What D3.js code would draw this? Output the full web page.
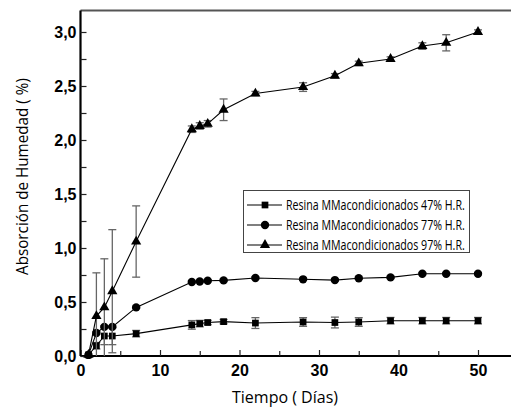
<!DOCTYPE html>
<html>
<head>
<meta charset="utf-8">
<script src="https://cdn.jsdelivr.net/npm/d3@7"></script>
<style>
  body { margin: 0; background: #fff; }
  svg { display: block; }
  .tick-lbl text { font-family: "Liberation Sans", Arial, sans-serif; font-weight: bold; font-size: 16px; fill: #000; }
  .axis-title { font-family: "Open Sans", sans-serif; font-size: 16px; fill: #000; }
  .legend text { font-family: "Open Sans", sans-serif; font-size: 14px; fill: #000; }
</style>
</head>
<body>
<svg width="511" height="412"></svg>
<script>
// data
var days47 = [1, 2, 3, 4, 7, 14, 15, 16, 18, 22, 28, 32, 35, 39, 43, 46, 50];
var abs47  = [0.01, 0.095, 0.185, 0.185, 0.207, 0.288, 0.30, 0.31, 0.318, 0.305, 0.315, 0.31, 0.315, 0.327, 0.327, 0.327, 0.327];
var err47  = [0, 0.03, 0.08, 0.08, 0.03, 0.04, 0.03, 0.02, 0.02, 0.05, 0.04, 0.05, 0.04, 0.03, 0.03, 0.03, 0.03];

var days77 = [1, 2, 3, 4, 7, 14, 15, 16, 18, 22, 28, 32, 35, 39, 43, 46, 50];
var abs77  = [0.01, 0.213, 0.27, 0.27, 0.45, 0.685, 0.69, 0.697, 0.70, 0.722, 0.71, 0.703, 0.72, 0.728, 0.762, 0.762, 0.762];
var err77  = [0, 0.01, 0.01, 0.01, 0.01, 0.01, 0.01, 0.01, 0.01, 0.01, 0.01, 0.01, 0.01, 0.01, 0.01, 0.01, 0.01];

var days97 = [1, 2, 3, 4, 7, 14, 15, 16, 18, 22, 28, 32, 35, 39, 43, 46, 50];
var abs97  = [0.01, 0.37, 0.45, 0.60, 1.06, 2.10, 2.13, 2.15, 2.28, 2.43, 2.49, 2.595, 2.71, 2.75, 2.87, 2.90, 3.0];
var err97  = [0, 0.40, 0.45, 0.57, 0.33, 0.03, 0.03, 0.03, 0.10, 0.02, 0.04, 0.02, 0.02, 0.02, 0.03, 0.075, 0.02];

var legendLabels = ['Resina MMacondicionados 47% H.R.', 'Resina MMacondicionados 77% H.R.', 'Resina MMacondicionados 97% H.R.'];
var xMajor = [0, 10, 20, 30, 40, 50];
var xMinor = [5, 15, 25, 35, 45, 55];
var yMajor = [0, 0.5, 1.0, 1.5, 2.0, 2.5, 3.0];
var yMinor = [0.25, 0.75, 1.25, 1.75, 2.25, 2.75];

var svg = d3.select('svg');

var xScale = d3.scaleLinear().domain([0, 55]).range([80.5, 517.75]);
var yScale = d3.scaleLinear().domain([0, 3.2]).range([356, 10.4]);

var fmt = function(d) { return d3.format('.1f')(d).replace('.', ','); };

// squeeze a text horizontally so it looks like the condensed font of the original
function squeeze(sel, x, y, width, rot) {
    sel.each(function() {
        var len = this.getComputedTextLength();
        var k = Math.min(1, width / len);
        d3.select(this).attr('transform',
            'translate(' + x + ',' + y + ')' + (rot ? ' rotate(' + rot + ')' : '') + ' scale(' + k + ',1)');
    });
}

// top frame line
svg.append('line')
    .attr('x1', xScale(0)).attr('x2', 511)
    .attr('y1', yScale(3.2)).attr('y2', yScale(3.2))
    .attr('stroke', '#555').attr('stroke-width', 2);

// x axis
var xAxis = svg.append('g')
    .attr('class', 'tick-lbl')
    .attr('transform', 'translate(0,' + yScale(0) + ')')
    .call(d3.axisBottom(xScale).tickValues(xMajor).tickSize(-6).tickPadding(9).tickFormat(d3.format('d')));
svg.append('g')
    .attr('transform', 'translate(0,' + yScale(0) + ')')
    .call(d3.axisBottom(xScale).tickValues(xMinor).tickSize(-5).tickFormat(''))
    .select('.domain').remove();

// y axis
var yAxis = svg.append('g')
    .attr('class', 'tick-lbl')
    .attr('transform', 'translate(' + xScale(0) + ',0)')
    .call(d3.axisLeft(yScale).tickValues(yMajor).tickSize(-6).tickPadding(4).tickFormat(fmt));
svg.append('g')
    .attr('transform', 'translate(' + xScale(0) + ',0)')
    .call(d3.axisLeft(yScale).tickValues(yMinor).tickSize(-6).tickFormat(''))
    .select('.domain').remove();

svg.selectAll('.domain').attr('stroke', '#000').attr('stroke-width', 2.2);
xAxis.select('.domain').attr('d', 'M' + xScale(0) + ',0H511');
yAxis.select('.domain').attr('d', 'M0,' + yScale(0) + 'V' + yScale(3.2));
svg.selectAll('.tick line').attr('stroke', '#222').attr('stroke-width', 1.2);

// axis titles
svg.append('text')
    .attr('class', 'axis-title')
    .text('Tiempo (  Días)')
    .call(squeeze, 232, 403, 112);

svg.append('text')
    .attr('class', 'axis-title')
    .text('Absorción de Humedad (  %)')
    .call(squeeze, 28, 275, 197, -90);

var series = [
    {days: days47, abs: abs47, err: err47, symbol: d3.symbolSquare, size: 45},
    {days: days77, abs: abs77, err: err77, symbol: d3.symbolCircle, size: 55},
    {days: days97, abs: abs97, err: err97, symbol: d3.symbolTriangle, size: 45}
];

var line = d3.line()
    .x(function(d) { return xScale(d.x); })
    .y(function(d) { return yScale(d.y); });

series.forEach(function(s) {
    var pts = s.days.map(function(x, i) { return {x: x, y: s.abs[i], e: s.err[i]}; });
    var g = svg.append('g');

    // error bars
    var eb = g.selectAll('.err')
        .data(pts.filter(function(p) { return p.e > 0; }))
        .enter().append('g')
        .attr('stroke', '#666').attr('stroke-width', 1.3);
    eb.append('line')
        .attr('x1', function(p) { return xScale(p.x); })
        .attr('x2', function(p) { return xScale(p.x); })
        .attr('y1', function(p) { return yScale(Math.max(0, p.y - p.e)); })
        .attr('y2', function(p) { return yScale(p.y + p.e); });
    eb.append('line')
        .attr('x1', function(p) { return xScale(p.x) - 4; })
        .attr('x2', function(p) { return xScale(p.x) + 4; })
        .attr('y1', function(p) { return yScale(p.y + p.e); })
        .attr('y2', function(p) { return yScale(p.y + p.e); });
    eb.filter(function(p) { return p.y - p.e > 0; }).append('line')
        .attr('x1', function(p) { return xScale(p.x) - 4; })
        .attr('x2', function(p) { return xScale(p.x) + 4; })
        .attr('y1', function(p) { return yScale(p.y - p.e); })
        .attr('y2', function(p) { return yScale(p.y - p.e); });

    g.append('path')
        .attr('d', line(pts))
        .attr('fill', 'none')
        .attr('stroke', '#000')
        .attr('stroke-width', 1.1);

    g.selectAll('.mk')
        .data(pts)
        .enter().append('path')
        .attr('transform', function(p) { return 'translate(' + xScale(p.x) + ',' + yScale(p.y) + ')'; })
        .attr('d', d3.symbol().type(s.symbol).size(s.size))
        .attr('fill', '#000');
});

// legend
var legend = svg.append('g').attr('class', 'legend');
legend.append('rect')
    .attr('x', 243.5).attr('y', 190.5)
    .attr('width', 226).attr('height', 62)
    .attr('fill', '#fff').attr('stroke', '#444').attr('stroke-width', 1);

var rows = legend.selectAll('.row')
    .data(series)
    .enter().append('g')
    .attr('transform', function(d, i) { return 'translate(0,' + (205 + i * 20) + ')'; });
rows.append('line')
    .attr('x1', 247).attr('x2', 282).attr('y1', 0).attr('y2', 0)
    .attr('stroke', '#000').attr('stroke-width', 1.1);
rows.append('path')
    .attr('transform', 'translate(265,0)')
    .attr('d', function(d) { return d3.symbol().type(d.symbol).size(d.size)(); })
    .attr('fill', '#000');
rows.append('text')
    .text(function(d, i) { return legendLabels[i]; })
    .call(squeeze, 286, 5, 179);
</script>
</body>
</html>
